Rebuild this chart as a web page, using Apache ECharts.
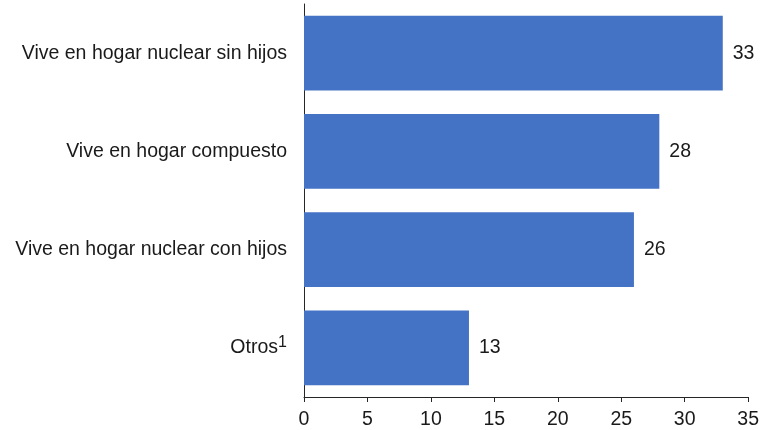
<!DOCTYPE html>
<html><head><meta charset="utf-8">
<script src="https://cdn.jsdelivr.net/npm/echarts@6/dist/echarts.min.js"></script>
<style>html,body{margin:0;padding:0;background:#fff}#c{width:762px;height:430px}</style>
</head><body><div id="c"></div>
<script>
const categories = ['Vive en hogar nuclear sin hijos','Vive en hogar compuesto','Vive en hogar nuclear con hijos','Otros'];
const footnotes = ['', '', '', '1'];
const values = [33, 28, 26, 13];
const xTicks = {min: 0, max: 35, interval: 5};

const chart = echarts.init(document.getElementById('c'), null, {renderer: 'canvas'});
const font = 'Liberation Sans, Arial, sans-serif';
const fs = 19.5;
chart.setOption({
  animation: false,
  grid: {left: 304, right: 13, top: 4, bottom: 33, containLabel: false},
  xAxis: {
    type: 'value', min: xTicks.min, max: xTicks.max, interval: xTicks.interval,
    axisLine: {show: true, lineStyle: {color: '#262626', width: 1}},
    axisTick: {show: true, length: 5, lineStyle: {color: '#262626'}},
    splitLine: {show: false},
    axisLabel: {color: '#1a1a1a', fontSize: fs, fontFamily: font, margin: 13}
  },
  yAxis: {
    type: 'category', inverse: true, data: categories,
    axisLine: {show: true, lineStyle: {color: '#262626', width: 1}},
    axisTick: {show: false},
    axisLabel: {
      color: '#1a1a1a', fontSize: fs, fontFamily: font, margin: 17,
      formatter: function (v) {
        const f = footnotes[categories.indexOf(v)];
        return f ? '{t|' + v + '}{sup|' + f + '}' : v;
      },
      rich: {
        t: {fontSize: fs, fontFamily: font, color: '#1a1a1a'},
        sup: {fontSize: 16, fontFamily: font, color: '#1a1a1a', verticalAlign: 'bottom', padding: [0, 0, 11, 5], width: 4, overflow: 'none'}
      }
    }
  },
  series: [{
    type: 'bar', data: values, barCategoryGap: '24%',
    itemStyle: {color: '#4472C4'},
    label: {show: true, position: 'right', distance: 10, color: '#1a1a1a', fontSize: fs, fontFamily: font}
  }]
});
</script></body></html>
